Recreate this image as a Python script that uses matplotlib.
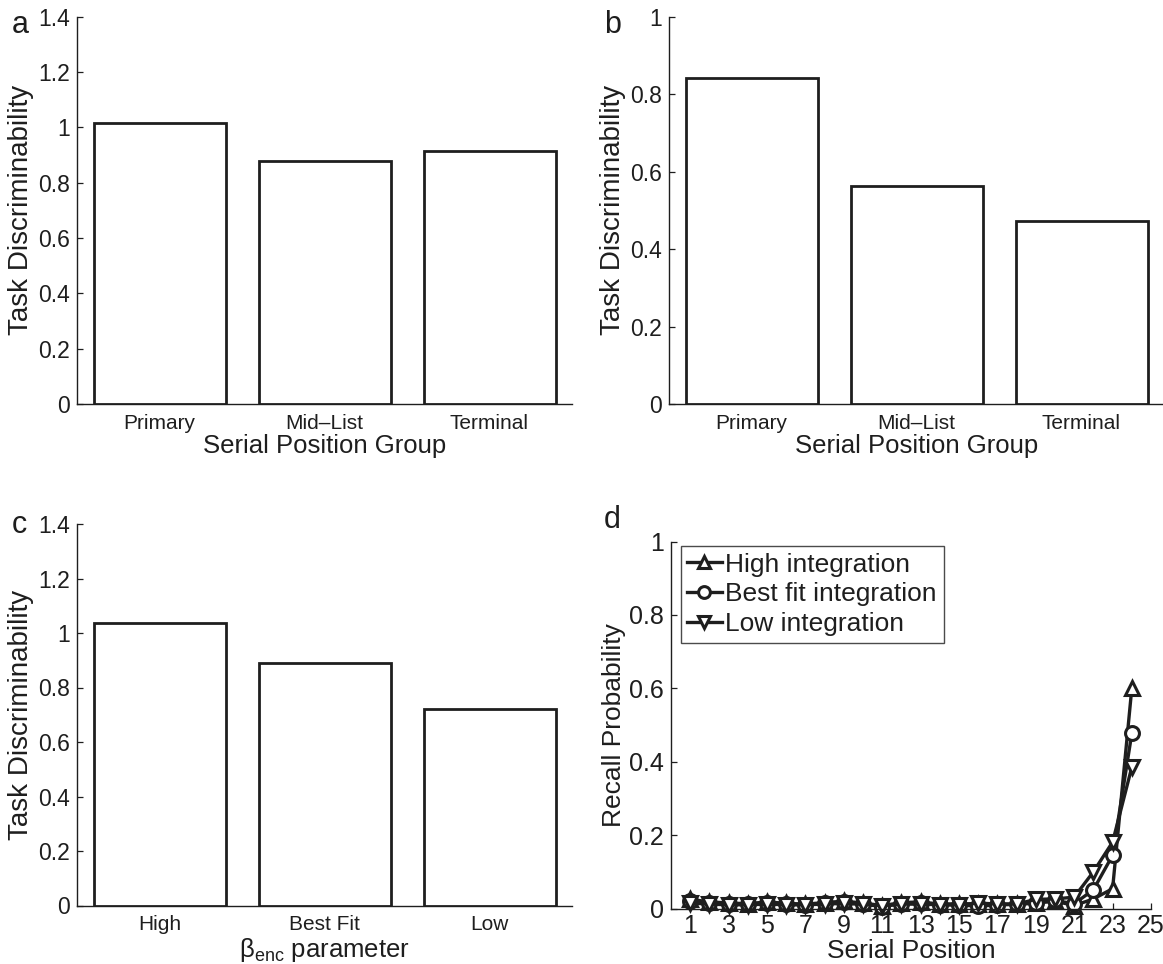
import matplotlib
matplotlib.use("Agg")
import matplotlib.pyplot as plt
from matplotlib.ticker import FuncFormatter
import numpy as np

plt.rcParams['font.family'] = ['Liberation Sans', 'DejaVu Sans']
plt.rcParams['mathtext.fontset'] = 'custom'
plt.rcParams['mathtext.rm'] = 'Liberation Sans'
plt.rcParams['mathtext.it'] = 'Liberation Sans'

INK = '#1e1e1e'

# ---- data ----
groups = ['Primary', 'Mid\u2013List', 'Terminal']
disc_a = [1.017, 0.880, 0.916]
disc_b = [0.843, 0.562, 0.472]
beta_levels = ['High', 'Best Fit', 'Low']
disc_c = [1.035, 0.891, 0.722]

serial_pos = list(range(1, 25))
high_int = [0.025, 0.018, 0.015, 0.013, 0.018, 0.014, 0.012, 0.016, 0.020, 0.015,
            0.008, 0.016, 0.018, 0.012, 0.013, 0.012, 0.012, 0.012, 0.015, 0.020,
            0.008, 0.026, 0.054, 0.600]
best_int = [0.020, 0.015, 0.013, 0.012, 0.015, 0.012, 0.010, 0.014, 0.018, 0.012,
            0.005, 0.013, 0.014, 0.010, 0.010, 0.006, 0.010, 0.011, 0.015, 0.022,
            0.013, 0.051, 0.145, 0.477]
low_int = [0.015, 0.012, 0.010, 0.010, 0.012, 0.010, 0.010, 0.012, 0.014, 0.011,
           0.008, 0.012, 0.012, 0.010, 0.010, 0.015, 0.012, 0.012, 0.025, 0.026,
           0.031, 0.100, 0.181, 0.385]
series_labels = ['High integration', 'Best fit integration', 'Low integration']

W, H = 1163, 964
fig = plt.figure(figsize=(W / 100, H / 100), dpi=100)


def rect(l, t, r, b):
    return [l / W, 1 - b / H, (r - l) / W, (b - t) / H]


fmt = FuncFormatter(lambda v, p: '%g' % round(v, 2))


def style(ax):
    for s in ['top', 'right']:
        ax.spines[s].set_visible(False)
    for s in ['left', 'bottom']:
        ax.spines[s].set_color(INK)
        ax.spines[s].set_linewidth(1.0)
    ax.tick_params(direction='in', colors=INK, length=4, width=0.9)
    ax.yaxis.set_major_formatter(fmt)


def bar_panel(ax, cats, vals, ymax, yticks, xlabel):
    x = np.arange(1, len(cats) + 1)
    ax.bar(x, vals, width=0.8, facecolor='white', edgecolor=INK, linewidth=2.0, zorder=3)
    ax.set_xlim(0.5, 3.5)
    ax.set_ylim(0, ymax)
    ax.set_yticks(yticks)
    ax.set_xticks(x)
    ax.set_xticklabels(cats, fontsize=15, color=INK)
    ax.tick_params(axis='x', length=0, pad=7)
    ax.tick_params(axis='y', labelsize=16.5, pad=5)
    style(ax)
    ax.set_ylabel('Task Discriminability', fontsize=20, color=INK, labelpad=3)
    ax.set_xlabel(xlabel, fontsize=18.5, color=INK, labelpad=1)


ax_a = fig.add_axes(rect(77, 16.7, 572, 404))
bar_panel(ax_a, groups, disc_a, 1.4, np.arange(0, 1.41, 0.2), 'Serial Position Group')
ax_b = fig.add_axes(rect(669, 16.7, 1164, 404))
bar_panel(ax_b, groups, disc_b, 1.0, np.arange(0, 1.01, 0.2), 'Serial Position Group')
ax_c = fig.add_axes(rect(77, 524, 572, 905.5))
bar_panel(ax_c, beta_levels, disc_c, 1.4, np.arange(0, 1.41, 0.2),
          r'$\mathrm{\beta}_{\mathrm{enc}}$ parameter')

ax_d = fig.add_axes(rect(671, 541.5, 1151, 908.5))
markers = ['^', 'o', 'v']
for vals, mk, lab in zip([high_int, best_int, low_int], markers, series_labels):
    ax_d.plot(serial_pos, vals, color=INK, linewidth=2.4, marker=mk, markersize=10,
              markerfacecolor='white', markeredgecolor=INK, markeredgewidth=2.2,
              label=lab, clip_on=False)
ax_d.set_xlim(0, 25)
ax_d.set_ylim(0, 1)
ax_d.set_xticks(np.arange(1, 26, 2))
ax_d.set_yticks(np.arange(0, 1.01, 0.2))
ax_d.tick_params(axis='both', labelsize=18)
ax_d.tick_params(axis='x', pad=4)
ax_d.tick_params(axis='y', pad=5)
style(ax_d)
ax_d.set_xlabel('Serial Position', fontsize=19, color=INK, labelpad=1)
ax_d.set_ylabel('Recall Probability', fontsize=19, color=INK, labelpad=2)
leg = ax_d.legend(loc='upper left', bbox_to_anchor=(0.02, 0.988), fontsize=19,
                  frameon=True, fancybox=False, handlelength=1.3, handletextpad=0.15,
                  borderpad=0.25, labelspacing=0.22, borderaxespad=0.0,
                  markerscale=0.85)
leg.get_frame().set_edgecolor(INK)
leg.get_frame().set_linewidth(1.0)
for t in leg.get_texts():
    t.set_color(INK)

# panel letters
for txt, x, y in [('a', 12, 33), ('b', 604, 33), ('c', 12, 533), ('d', 604, 528)]:
    fig.text(x / W, 1 - y / H, txt, fontsize=22, color=INK, ha='left', va='baseline')

fig.savefig('out.png', dpi=100)
